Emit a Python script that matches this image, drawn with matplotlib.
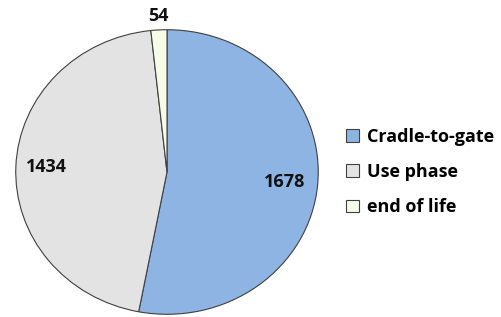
import numpy as np
import matplotlib
matplotlib.use('Agg')
import matplotlib.pyplot as plt

# Life-cycle stages and values
stages = ['Cradle-to-gate', 'Use phase', 'end of life']
values = [1678, 1434, 54]
colors = ['#8DB4E2', '#E3E3E3', '#F6FCE6']
label_dist = [0.78, 0.80, 1.10]

plt.rcParams['font.family'] = ['Open Sans', 'DejaVu Sans']

W, H = 502, 317
fig = plt.figure(figsize=(W / 100, H / 100), dpi=100)

# pie area (slightly elliptical like the original)
cx, cy, rx, ry = 167, 172, 152, 143
ax = fig.add_axes([(cx - rx) / W, (H - cy - ry) / H, 2 * rx / W, 2 * ry / H])
wedges, _ = ax.pie(values, colors=colors, startangle=90, counterclock=False,
                   radius=1, wedgeprops=dict(edgecolor='#404040', linewidth=0.8))
ax.set_aspect('auto')
ax.set_xlim(-1.005, 1.005)
ax.set_ylim(-1.005, 1.005)
ax.axis('off')

for w, v, d in zip(wedges, values, label_dist):
    mid = np.deg2rad((w.theta1 + w.theta2) / 2)
    ax.text(d * np.cos(mid), d * np.sin(mid), str(v), ha='center', va='center',
            fontsize=13, fontweight='bold', color='#111111', clip_on=False)

fig.legend(wedges, stages, loc='center left', bbox_to_anchor=(330 / W, 1 - 172 / H),
           frameon=False, handlelength=0.7, handleheight=0.7,
           handletextpad=0.45, labelspacing=0.95,
           prop={'weight': 'bold', 'size': 13})

fig.savefig('out.png', dpi=100)
